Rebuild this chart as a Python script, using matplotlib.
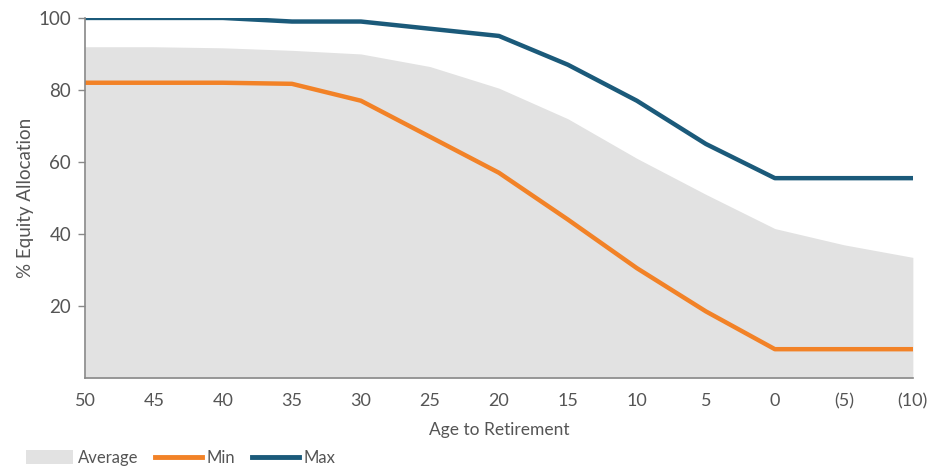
import matplotlib.pyplot as plt
from matplotlib.patches import Patch
from matplotlib.lines import Line2D

plt.rcParams['font.family'] = ['Lato', 'DejaVu Sans']

ages = ["50", "45", "40", "35", "30", "25", "20", "15", "10", "5", "0", "(5)", "(10)"]
avg_alloc = [92, 92, 91.7, 91, 90, 86.5, 80.5, 72, 61, 51, 41.5, 37, 33.5]
min_alloc = [82, 82, 82, 81.7, 77, 67, 57, 44, 30.5, 18.5, 8, 8, 8]
max_alloc = [100, 100, 100, 99, 99, 97, 95, 87, 77, 65, 55.5, 55.5, 55.5]

c_avg = "#e2e2e2"
c_min = "#f28227"
c_max = "#1b5a7a"
c_text = "#555555"

fig = plt.figure(figsize=(9.44, 4.67), dpi=100)
ax = fig.add_axes([0.090, 0.1906, 0.877, 0.771])

x = list(range(len(ages)))
ax.fill_between(x, 0, avg_alloc, color=c_avg, linewidth=0)
ax.plot(x, min_alloc, color=c_min, linewidth=3.2, solid_capstyle='round')
ax.plot(x, max_alloc, color=c_max, linewidth=3.2, solid_capstyle='round')

ax.set_xlim(0, len(ages) - 1)
ax.set_ylim(0, 100)
ax.set_xticks(x)
ax.set_xticklabels(ages)
ax.set_yticks([20, 40, 60, 80, 100])
ax.tick_params(axis='x', length=0, pad=11, labelsize=13, colors=c_text)
ax.tick_params(axis='y', length=5, width=1, pad=5, labelsize=13.5,
               colors="#888888", labelcolor=c_text)

for s in ["top", "right"]:
    ax.spines[s].set_visible(False)
for s in ["left", "bottom"]:
    ax.spines[s].set_color("#888888")
    ax.spines[s].set_linewidth(1.2)

ax.set_xlabel("Age to Retirement", fontsize=12.5, color=c_text, labelpad=9)
ax.set_ylabel("% Equity Allocation", fontsize=13.5, color=c_text, labelpad=3)

handles = [
    Patch(facecolor=c_avg, edgecolor="none", label="Average"),
    Line2D([0], [0], color=c_min, linewidth=3.5, label="Min"),
    Line2D([0], [0], color=c_max, linewidth=3.5, label="Max"),
]
fig.legend(handles=handles, loc="lower left", bbox_to_anchor=(0.012, -0.03),
           ncol=3, frameon=False, fontsize=12, labelcolor=c_text,
           handlelength=2.8, handleheight=0.9, handletextpad=0.3, columnspacing=1.0)

fig.savefig("out.png", dpi=100)
